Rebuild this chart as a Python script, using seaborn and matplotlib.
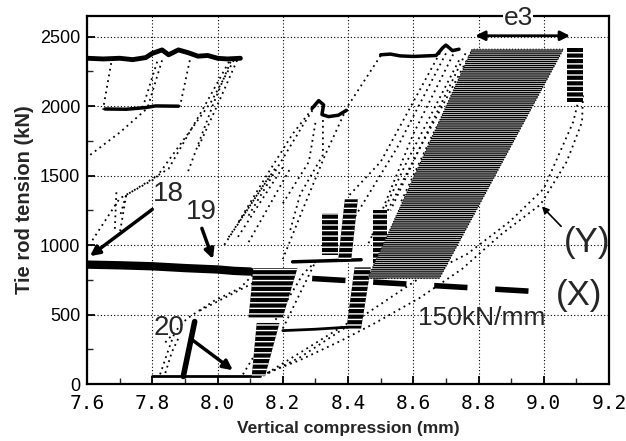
import matplotlib
matplotlib.use("Agg")
import matplotlib.pyplot as plt
import numpy as np
import pandas as pd
import seaborn as sns

# ---------------- data ----------------
x_ticks = [7.6, 7.8, 8.0, 8.2, 8.4, 8.6, 8.8, 9.0, 9.2]
x_tick_labels = ["7.6", "7.8", "8.0", "8.2", "8.4", "8.6", "8.8", "9.0", "9.2"]
y_ticks = [0, 500, 1000, 1500, 2000, 2500]

# thick plateaus / bands
plateau_top_x = [7.60, 7.65, 7.70, 7.74, 7.78, 7.80, 7.83, 7.85, 7.88, 7.91, 7.94, 7.97, 8.00, 8.03, 8.07]
plateau_top_y = [2345, 2340, 2345, 2335, 2350, 2380, 2405, 2370, 2405, 2385, 2360, 2365, 2345, 2340, 2345]
plateau_low_x = [7.655, 7.72, 7.78, 7.81, 7.88]
plateau_low_y = [1980, 1978, 1990, 2002, 2000]
plateau_mid_x = [8.29, 8.31, 8.325, 8.32, 8.34, 8.37, 8.395]
plateau_mid_y = [1985, 2040, 2010, 1940, 1925, 1935, 1970]
plateau2_x = [8.50, 8.53, 8.56, 8.60, 8.64, 8.67, 8.69, 8.70, 8.72, 8.74]
plateau2_y = [2370, 2375, 2362, 2358, 2362, 2365, 2420, 2440, 2400, 2410]
band850_x = [7.60, 7.70, 7.80, 7.90, 8.00, 8.05, 8.10]
band850_y = [860, 855, 848, 835, 825, 815, 810]
bottom_x = [7.80, 8.13]
bottom_y = [55, 55]
line20_x = [7.895, 7.93]
line20_y = [55, 450]
seg886_x = [8.23, 8.30, 8.44]
seg886_y = [880, 885, 895]
seg400_x = [8.20, 8.30, 8.40]
seg400_y = [385, 395, 410]
lineX_x = [8.29, 9.02]
lineX_y = [760, 660]

# dense hatched blocks (outline vertices)
blocks_dark = {
    "A": ([8.095, 8.20, 8.245, 8.11], [480, 480, 835, 835]),
    "A2": ([8.105, 8.146, 8.19, 8.12], [60, 60, 440, 440]),
    "B1": ([8.32, 8.37, 8.37, 8.32], [930, 930, 1230, 1230]),
    "B2": ([8.37, 8.41, 8.43, 8.39], [900, 900, 1330, 1330]),
    "C": ([8.395, 8.44, 8.47, 8.42], [400, 400, 840, 840]),
    "D": ([8.475, 8.52, 8.52, 8.475], [760, 760, 1250, 1250]),
    "E": ([9.07, 9.12, 9.12, 9.07], [2030, 2030, 2420, 2420]),
}
band_x = [8.46, 8.68, 9.06, 8.78]
band_y = [760, 760, 2410, 2410]

# dotted unloading / reloading paths
dotted_x = [
    [7.674, 7.649], [7.815, 7.77], [7.83, 7.785], [7.915, 7.885],
    [7.61, 7.70, 7.78],
    [8.04, 7.986, 7.906],
    [8.05, 7.98, 7.81, 7.70, 7.615],
    [8.035, 7.96, 7.85, 7.72, 7.70],
    [8.06, 8.00, 7.94],
    [7.69, 7.685], [7.72, 7.70],
    [8.176, 8.032], [8.20, 8.06], [8.22, 8.09], [8.16, 8.02],
    [8.31, 8.262, 8.176, 8.09], [8.29, 8.23, 8.15, 8.06],
    [8.323, 8.323, 8.253, 8.222], [8.30, 8.28, 8.20],
    [8.50, 8.397, 8.33, 8.26, 8.20],
    [8.73, 8.60, 8.47], [8.76, 8.63, 8.53], [8.70, 8.55, 8.42], [8.69, 8.50, 8.40],
    [8.78, 8.62, 8.50], [8.80, 8.66, 8.56], [8.74, 8.58, 8.46],
    [8.14, 8.25, 8.38, 8.48, 8.62, 8.75, 8.87, 8.99, 9.07, 9.117, 9.12],
    [8.14, 8.253, 8.45, 8.62, 8.765, 8.896, 9.00, 9.09, 9.11],
    [7.824, 7.85, 7.87], [7.84, 7.86, 7.88],
    [7.84, 7.906, 7.99, 8.07, 8.11],
    [7.946, 8.18],
    [8.078, 8.262, 8.30],
    [8.152, 8.397],
    [8.20, 8.30],
]
dotted_y = [
    [2310, 1975], [2320, 1985], [2330, 1985], [2330, 2000],
    [1650, 1810, 1975],
    [2320, 2010, 1507],
    [2330, 2030, 1480, 1336, 1030],
    [2320, 2000, 1550, 1360, 1200],
    [2330, 2010, 1700],
    [1380, 1100], [1360, 1080],
    [1550, 1050], [1560, 1050], [1540, 1000], [1500, 1000],
    [2040, 1864, 1529, 1193], [1980, 1800, 1500, 1150],
    [1900, 1650, 1364, 1100], [1880, 1600, 1300],
    [2364, 1993, 1650, 1250, 900],
    [2410, 1800, 1050], [2380, 1750, 1250], [2380, 1700, 1200], [2420, 1600, 1350],
    [2400, 1700, 1150], [2400, 1800, 1300], [2330, 1600, 1000],
    [70, 170, 314, 436, 621, 830, 1079, 1293, 1600, 1886, 2080],
    [60, 193, 497, 764, 936, 1171, 1407, 1886, 2080],
    [70, 250, 380], [80, 230, 330],
    [300, 471, 600, 693, 790],
    [529, 814],
    [70, 793, 880],
    [79, 436],
    [400, 880],
]

# ---------------- figure ----------------
sns.set_theme(style="white")
plt.rcParams["font.family"] = ["Liberation Sans", "DejaVu Sans"]
plt.rcParams["hatch.linewidth"] = 1.0

fig = plt.figure(figsize=(6.26, 4.41), dpi=100)
ax = fig.add_axes([0.139, 0.129, 0.834, 0.835])

# dotted paths
rows = []
for i, (xs, ys) in enumerate(zip(dotted_x, dotted_y)):
    for xv, yv in zip(xs, ys):
        rows.append({"seg": i, "x": xv, "y": yv})
dotted_df = pd.DataFrame(rows)
sns.lineplot(data=dotted_df, x="x", y="y", units="seg", estimator=None, sort=False,
             color="black", lw=1.3, dashes=False, ax=ax, legend=False)
for line in ax.lines:
    line.set_dashes((1, 2.2))

# hatched blocks
for name, (bx, by) in blocks_dark.items():
    ax.fill(bx, by, facecolor="black", edgecolor="white", hatch="---", lw=0, zorder=3)
ax.fill(band_x, band_y, facecolor="white", edgecolor="black", hatch="--------", lw=0, zorder=3)
ax.fill(band_x, band_y, facecolor="none", edgecolor="black", lw=0.8, ls=":", zorder=3)

def thick(xs, ys, lw, **kw):
    sns.lineplot(x=xs, y=ys, sort=False, estimator=None, color="black", lw=lw, ax=ax, **kw)

thick(plateau_top_x, plateau_top_y, 3.5)
thick(plateau_low_x, plateau_low_y, 2.5)
thick(plateau_mid_x, plateau_mid_y, 2.5)
thick(plateau2_x, plateau2_y, 2.5)
thick(band850_x, band850_y, 6)
thick(bottom_x, bottom_y, 2)
thick(line20_x, line20_y, 4)
thick(seg886_x, seg886_y, 2.5)
thick(seg400_x, seg400_y, 2)
sns.lineplot(x=lineX_x, y=lineX_y, color="black", lw=4, ax=ax, estimator=None, sort=False)
ax.lines[-1].set_dashes((6, 5))
ax.lines[-1].set_dash_capstyle("butt")

# axes styling
ax.set_xlim(7.6, 9.2)
ax.set_ylim(0, 2650)
ax.set_xticks(x_ticks)
ax.set_xticklabels(x_tick_labels, family="DejaVu Sans Mono", fontsize=14)
ax.set_yticks(y_ticks)
ax.set_yticklabels([str(v) for v in y_ticks], fontsize=13)
ax.set_xticks(np.arange(7.7, 9.2, 0.2), minor=True)
ax.set_yticks([250, 750, 1250, 1750, 2250], minor=True)
ax.tick_params(axis="both", which="major", direction="in", length=6, width=1.3,
               bottom=True, left=True, colors="black")
ax.tick_params(axis="both", which="minor", direction="in", length=4, width=1.0,
               bottom=True, left=True)
ax.tick_params(axis="x", pad=7)
ax.tick_params(axis="y", pad=5)
ax.grid(True, which="major", color="black", lw=0.8, ls=(0, (1, 2)))
for s in ax.spines.values():
    s.set_color("black")
    s.set_linewidth(1.6)
ax.set_xlabel("Vertical compression (mm)", fontsize=12.5, fontweight="bold", labelpad=6)
ax.set_ylabel("Tie rod tension (kN)", fontsize=14.5, fontweight="bold", labelpad=4)

# annotations
arrow_kw = dict(arrowstyle="-|>", color="black", lw=2.5, mutation_scale=14, shrinkA=0, shrinkB=0)
ax.text(7.848, 1371, "18", fontsize=20, ha="center", va="center")
ax.annotate("", xy=(7.609, 921), xytext=(7.80, 1257), arrowprops=arrow_kw)
ax.text(7.949, 1236, "19", fontsize=20, ha="center", va="center")
ax.annotate("", xy=(7.986, 900), xytext=(7.952, 1121), arrowprops=arrow_kw)
ax.text(7.851, 407, "20", fontsize=20, ha="center", va="center")
ax.annotate("", xy=(8.047, 100), xytext=(7.925, 314), arrowprops=arrow_kw)
ax.text(8.81, 479, "150kN/mm", fontsize=19, ha="center", va="center")
ax.text(9.108, 636, "(X)", fontsize=25, ha="center", va="center", clip_on=False)
ax.text(9.133, 1021, "(Y)", fontsize=25, ha="center", va="center", clip_on=False)
ax.annotate("", xy=(8.988, 1293), xytext=(9.059, 1121),
            arrowprops=dict(arrowstyle="-|>", color="black", lw=1.2, mutation_scale=10))
ax.text(8.921, 2636, "e3", fontsize=19, ha="center", va="center", clip_on=False,
        bbox=dict(facecolor="white", edgecolor="none", pad=0.5))
ax.annotate("", xy=(9.08, 2507), xytext=(8.79, 2507),
            arrowprops=dict(arrowstyle="<|-|>", color="black", lw=2, mutation_scale=14,
                            shrinkA=0, shrinkB=0))

fig.savefig("out.png", dpi=100)
